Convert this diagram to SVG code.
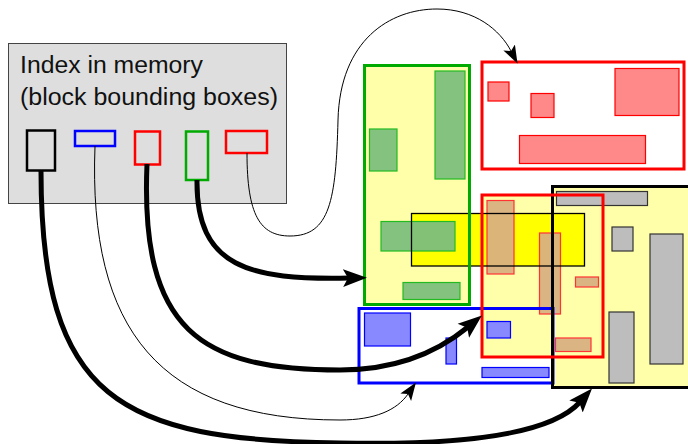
<svg xmlns="http://www.w3.org/2000/svg" width="688" height="444" viewBox="0 0 688 444">
<style>
.lbl{font-family:"Liberation Sans","DejaVu Sans",sans-serif;font-size:23px;fill:#111}
.blk{stroke-width:3;fill:none}
.ylw{stroke-width:1.3;fill:none;stroke:#000}
.gi{fill:#7cbf7c;fill-opacity:0.95;stroke:#22bb22;stroke-width:1.2}
.ri{fill:#ff8888;stroke:#ff0000;stroke-width:1.2}
.ti{fill:#d8b080;fill-opacity:0.95;stroke:#ff3333;stroke-width:1.2}
.bi{fill:#8888ff;stroke:#0000ff;stroke-width:1.2}
.gr{fill:#bdbdbd;stroke:#333;stroke-width:1.2}
.thick{fill:none;stroke:#000;stroke-width:5}
.thin{fill:none;stroke:#000;stroke-width:1}
</style>
<defs>
<marker id="hk" markerUnits="userSpaceOnUse" markerWidth="26" markerHeight="20" viewBox="0 -10 26 20" refX="6" refY="0" orient="auto">
<path d="M24,0 L0,-9 L5,0 L0,9 Z" fill="#000"/>
</marker>
<marker id="hn" markerUnits="userSpaceOnUse" markerWidth="20" markerHeight="16" viewBox="0 -8 20 16" refX="4" refY="0" orient="auto">
<path d="M18,0 L0,-6.5 L4,0 L0,6.5 Z" fill="#000"/>
</marker>
</defs>

<g id="index">
<rect x="8.5" y="43.5" width="278" height="160" fill="#dedede" stroke="#444" stroke-width="1"/>
<text class="lbl" x="20" y="73" textLength="183" lengthAdjust="spacingAndGlyphs">Index in memory</text>
<text class="lbl" x="20" y="105" textLength="258" lengthAdjust="spacingAndGlyphs">(block bounding boxes)</text>
<rect x="27" y="130.5" width="28" height="40" fill="none" stroke="#000" stroke-width="2.5"/>
<rect x="75" y="131" width="40" height="15" fill="none" stroke="#0000ff" stroke-width="2.5"/>
<rect x="135" y="131.5" width="25" height="33" fill="none" stroke="#ff0000" stroke-width="2.5"/>
<rect x="186" y="131.5" width="22" height="48.5" fill="none" stroke="#00aa00" stroke-width="2.5"/>
<rect x="226" y="131" width="41" height="22" fill="none" stroke="#ff0000" stroke-width="2.5"/>
</g>

<g id="fills">
<rect x="364.5" y="65.5" width="105" height="239" fill="#ffffaa"/>
<rect x="482" y="62" width="202" height="107" fill="#fff"/>
<rect x="552.5" y="186.5" width="140" height="201" fill="#ffffaa"/>
<rect x="359" y="308.5" width="194" height="74.5" fill="#fff"/>
<rect x="482" y="195" width="121" height="162" fill="#ffffaa"/>
<rect x="411.5" y="213.5" width="173" height="52.5" fill="#ffff00"/>
</g>

<g id="green-block">
<rect class="gi" x="435" y="71" width="30" height="108"/>
<rect class="gi" x="369.5" y="129" width="27.5" height="42"/>
<rect class="gi" x="381" y="221.5" width="74" height="29.5"/>
<rect class="gi" x="403" y="282.5" width="57" height="17"/>
</g>
<g id="red-top-block">
<rect class="ri" x="488" y="82" width="21" height="19"/>
<rect class="ri" x="531" y="93.5" width="23" height="24"/>
<rect class="ri" x="615" y="68.5" width="64" height="47"/>
<rect class="ri" x="519.5" y="135.5" width="126" height="28"/>
</g>
<g id="black-block">
<rect class="gr" x="556.5" y="191.5" width="91" height="14"/>
<rect class="gr" x="612" y="227" width="21" height="24"/>
<rect class="gr" x="650" y="234" width="33" height="130"/>
<rect class="gr" x="609" y="312" width="25" height="71"/>
</g>
<g id="red-block">
<rect class="ti" x="487" y="200.5" width="27" height="73.5"/>
<rect class="ti" x="539.5" y="233" width="21" height="81"/>
<rect class="ti" x="575.5" y="277" width="23" height="10"/>
<rect class="ti" x="555.5" y="338" width="35.5" height="13.5"/>
</g>
<g id="blue-block">
<rect class="bi" x="364.5" y="313" width="46" height="33"/>
<rect class="bi" x="446" y="338" width="10.5" height="26"/>
<rect class="bi" x="487" y="321.5" width="23.5" height="16.5"/>
<rect class="bi" x="482" y="367.5" width="67" height="10"/>
</g>

<g id="borders">
<rect class="ylw" x="411.5" y="213.5" width="173" height="52.5"/>
<rect class="blk" x="364.5" y="65.5" width="105" height="239" stroke="#00aa00"/>
<rect class="blk" x="482" y="62" width="202" height="107" stroke="#ff0000"/>
<rect class="blk" x="359" y="308.5" width="194" height="74.5" stroke="#0000ff"/>
<rect class="blk" x="552.5" y="186.5" width="140" height="201" stroke="#000"/>
<rect class="blk" x="482" y="195" width="121" height="162" stroke="#ff0000"/>
</g>

<g id="connectors">
<path class="thick" d="M41,171 C41,400 120,440 340,443 C480,446 555,430 580,402" marker-end="url(#hk)"/>
<path class="thin" d="M95,146 C88,330 160,420 340,420 C375,420 397,410 408,394" marker-end="url(#hn)"/>
<path class="thick" d="M147,164 C140,330 200,370 340,370 C400,370 440,350 468,327" marker-end="url(#hk)"/>
<path class="thick" d="M197,180 C196,268 250,280 349,278" marker-end="url(#hk)"/>
<path class="thin" d="M247,153 C247,215 260,236 290,236 C330,236 336,200 338,120 C340,40 390,9 437,9 C475,9 500,30 511,51" marker-end="url(#hn)"/>
</g>
</svg>
